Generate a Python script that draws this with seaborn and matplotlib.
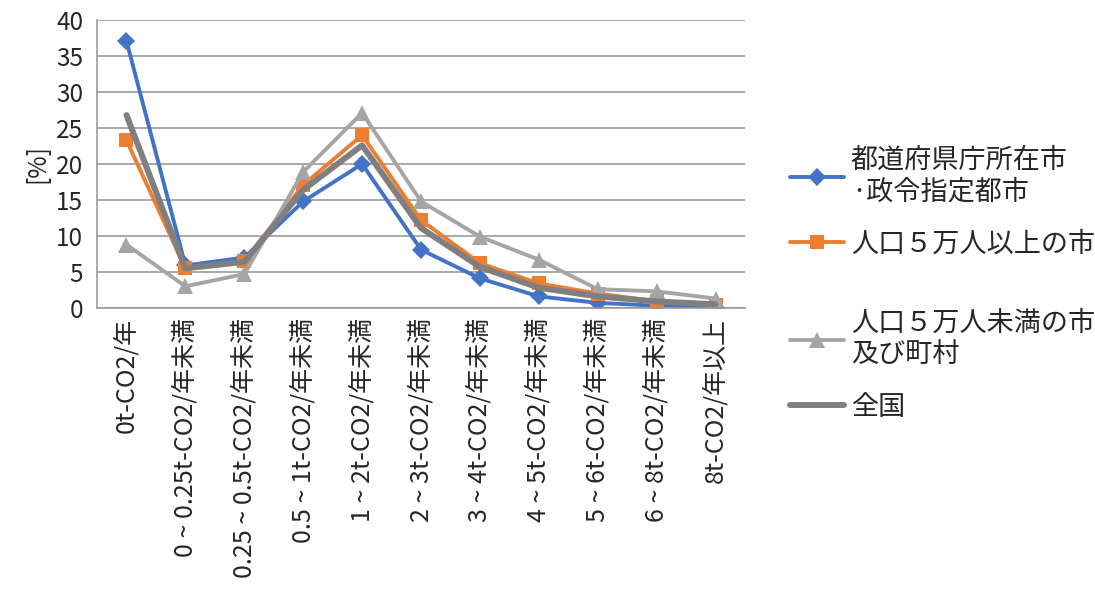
import numpy as np
import pandas as pd
import matplotlib
matplotlib.use("Agg")
import matplotlib.pyplot as plt
import seaborn as sns

categories = [
    "0t-CO2/年",
    "0 ~ 0.25t-CO2/年未満",
    "0.25 ~ 0.5t-CO2/年未満",
    "0.5 ~ 1t-CO2/年未満",
    "1 ~ 2t-CO2/年未満",
    "2 ~ 3t-CO2/年未満",
    "3 ~ 4t-CO2/年未満",
    "4 ~ 5t-CO2/年未満",
    "5 ~ 6t-CO2/年未満",
    "6 ~ 8t-CO2/年未満",
    "8t-CO2/年以上",
]

# 各区分の割合 [%]
pref_capital = [37.1, 5.9, 7.0, 14.8, 20.0, 8.1, 4.1, 1.6, 0.7, 0.3, 0.0]
city_over_50k = [23.3, 5.5, 6.5, 17.1, 24.0, 12.2, 6.2, 3.4, 2.0, 0.9, 0.4]
city_under_50k = [8.8, 3.0, 4.7, 18.9, 27.1, 14.8, 9.9, 6.7, 2.6, 2.3, 1.3]
national = [26.8, 5.5, 6.4, 16.4, 22.6, 11.1, 5.7, 2.8, 1.6, 0.9, 0.5]

series_names = ["都道府県庁所在市\n·政令指定都市", "人口５万人以上の市", "人口５万人未満の市\n及び町村", "全国"]
series_values = [pref_capital, city_over_50k, city_under_50k, national]
colors = ["#4472C4", "#ED7D31", "#A5A5A5", "#7F7F7F"]
markers = ["D", "s", "^", None]
msizes = [9, 10, 11, 0]
widths = [2.8, 2.8, 2.8, 4.3]

sns.set_style("white")
plt.rcParams["font.family"] = ["Noto Sans CJK JP", "DejaVu Sans"]

fig = plt.figure(figsize=(10.95, 5.91), dpi=100)
ax = fig.add_axes([0.0886, 0.479, 0.5918, 0.487])

x = np.arange(len(categories))
for name, vals, c, m, ms, lw in zip(series_names, series_values, colors, markers, msizes, widths):
    df = pd.DataFrame({"x": x, "y": vals})
    sns.lineplot(data=df, x="x", y="y", ax=ax, color=c, linewidth=lw,
                 marker=m, markersize=ms, markeredgewidth=0, label=name)

ax.set_xlim(-0.5, len(categories) - 0.5)
ax.set_ylim(0, 40)
ax.set_yticks(range(0, 41, 5))
ax.set_xticks(x)
ax.set_xticklabels(categories, rotation=90, fontsize=18)
ax.set_xticks(np.arange(-0.5, len(categories)), minor=True)
ax.tick_params(axis="x", which="major", length=0, pad=7)
ax.tick_params(axis="x", which="minor", length=6, color="#999999", width=1.2)
ax.tick_params(axis="y", length=6, color="#999999", width=1.2, labelsize=17.5, pad=4)
ax.set_xlabel("")
ax.set_ylabel("[%]", fontsize=17.5, labelpad=4)
ax.grid(axis="y", color="#999999", linewidth=1.2)
ax.set_axisbelow(True)
for side in ["top", "right"]:
    ax.spines[side].set_visible(False)
for side in ["left", "bottom"]:
    ax.spines[side].set_color("#999999")
    ax.spines[side].set_linewidth(1.2)

handles, labels = ax.get_legend_handles_labels()
ax.get_legend().remove()
leg_kw = dict(frameon=False, fontsize=19.5, labelspacing=0.95, handlelength=2.0,
              handletextpad=0.25, borderaxespad=0, borderpad=0)
fig.legend(handles[:2], labels[:2], loc="upper left",
           bbox_to_anchor=(790 / 1095, 1 - 147 / 591), **leg_kw)
fig.legend(handles[2:], labels[2:], loc="upper left",
           bbox_to_anchor=(790 / 1095, 1 - 310 / 591), **leg_kw)

fig.savefig("out.png", dpi=100)
